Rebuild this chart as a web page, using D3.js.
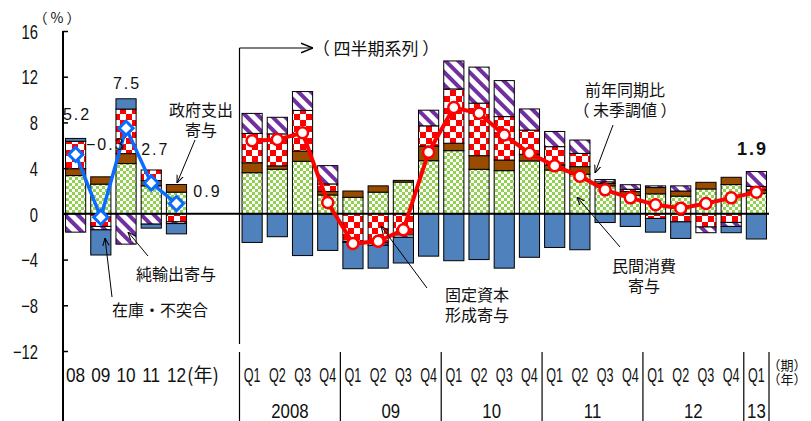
<!DOCTYPE html>
<html>
<head>
<meta charset="utf-8">
<title>GDP growth contributions</title>
<script src="https://d3js.org/d3.v7.min.js"></script>
<style>
  body { margin: 0; background: #fff; }
  svg { display: block; background: #fff; }
  .jp { font-family: "Noto Sans CJK JP", sans-serif; fill: #111; }
  .num { font-family: "Liberation Sans", Arial, sans-serif; fill: #111; }
</style>
</head>
<body>
<svg width="811" height="421"></svg>
<script>

// ---- data (contributions, percentage points) ----
var annualLabels = ["08", "09", "10", "11", "12"];
var quarterLabels = ["Q1","Q2","Q3","Q4","Q1","Q2","Q3","Q4","Q1","Q2","Q3","Q4",
                     "Q1","Q2","Q3","Q4","Q1","Q2","Q3","Q4","Q1"];
var yearLabels = ["2008", "09", "10", "11", "12", "13"];
var yTicks = [-12, -8, -4, 0, 4, 8, 12, 16];

// annual
var consA = [3.35, 2.6, 4.4, 2.45, 1.9];
var govA  = [0.6, 0.64, 0.87, 0.46, 0.67];
var invA  = [2.4, -1.1, 3.9, 0.93, -0.7];
var netA  = [-1.6, -0.3, -2.65, -0.9, -0.15];
var stkA  = [0.25, -2.2, 0.9, -0.35, -0.9];
var growthA = [5.2, -0.3, 7.5, 2.7, 0.9];

// quarterly, 2008Q1 - 2013Q1
var consQ = [3.6, 3.9, 4.6, 1.65, 1.45, 1.9, 2.78, 4.65, 5.53, 3.9, 3.78, 4.63, 3.84, 3.47, 2.45, 1.6, 1.75, 1.55, 2.18, 2.56, 1.8];
var govQ  = [0.87, 0.3, 0.9, 0.3, 0.55, 0.55, 0.15, 1.28, 0.65, 1.19, 0.93, 0.58, 0.44, 0.66, 0.2, 0.35, 0.55, 0.45, 0.58, 0.64, 0.3];
var invQ  = [2.57, 2.8, 3.55, 0.67, -2.4, -2.5, -1.85, 1.77, 4.75, 4.6, 3.8, 2.12, 1.6, 1.16, 0.15, 0.2, -0.4, -0.7, -1.15, -0.75, 0.3];
var netQ  = [1.75, 1.45, 1.65, 1.6, -0.1, -0.25, -0.2, 1.37, 2.45, 3.15, 3.15, 1.85, 1.33, 1.17, 0.2, 0.4, 0.15, 0.45, -0.5, -0.35, 1.3];
var stkQ  = [-2.5, -2.0, -3.65, -3.2, -2.3, -2.0, -2.25, -3.7, -4.1, -4.0, -4.75, -3.8, -2.94, -3.14, -0.76, -1.1, -1.2, -1.45, 0, -0.55, -2.2];
var growthQ = [6.4, 6.5, 7.1, 1.0, -2.6, -2.4, -1.4, 5.4, 9.3, 8.8, 6.9, 5.3, 4.2, 3.3, 2.1, 1.4, 0.8, 0.5, 0.9, 1.4, 1.9];

var series = ["cons", "gov", "inv", "net", "stk"];

var svg = d3.select("svg"),
    width = +svg.attr("width"),
    height = +svg.attr("height");

var keysA = annualLabels.map(function(d, i) { return "a" + i; });
var keysQ = quarterLabels.map(function(d, i) { return "q" + i; });
var domain = keysA.concat(["s0", "s1"], keysQ);

var rows = [];
keysA.forEach(function(k, i) {
  rows.push({key: k, cons: consA[i], gov: govA[i], inv: invA[i], net: netA[i], stk: stkA[i]});
});
keysQ.forEach(function(k, i) {
  rows.push({key: k, cons: consQ[i], gov: govQ[i], inv: invQ[i], net: netQ[i], stk: stkQ[i]});
});

var x = d3.scaleBand()
    .domain(domain)
    .range([63, 769])
    .paddingInner(0.2)
    .paddingOuter(0.1);

var y = d3.scaleLinear()
    .domain([-12, 16])
    .range([351, 31]);

var xc = function(k) { return x(k) + x.bandwidth() / 2; };
var gap = x.step() * x.paddingInner() / 2;

// ---- patterns ----
var defs = svg.append("defs");

var pg = defs.append("pattern").attr("id", "pGreen")
    .attr("patternUnits", "userSpaceOnUse").attr("width", 6).attr("height", 6);
pg.append("rect").attr("width", 6).attr("height", 6).attr("fill", "#fff");
pg.append("rect").attr("width", 3).attr("height", 3).attr("fill", "#92d050");
pg.append("rect").attr("x", 3).attr("y", 3).attr("width", 3).attr("height", 3).attr("fill", "#92d050");

var pr = defs.append("pattern").attr("id", "pRed")
    .attr("patternUnits", "userSpaceOnUse").attr("width", 12).attr("height", 12);
pr.append("rect").attr("width", 12).attr("height", 12).attr("fill", "#fff");
pr.append("rect").attr("width", 6).attr("height", 6).attr("fill", "#ff0000");
pr.append("rect").attr("x", 6).attr("y", 6).attr("width", 6).attr("height", 6).attr("fill", "#ff0000");

var pp = defs.append("pattern").attr("id", "pPurple")
    .attr("patternUnits", "userSpaceOnUse").attr("width", 9).attr("height", 9)
    .attr("patternTransform", "rotate(-45)");
pp.append("rect").attr("width", 9).attr("height", 9).attr("fill", "#fff");
pp.append("rect").attr("width", 4).attr("height", 9).attr("fill", "#7030a0");

var fills = {cons: "url(#pGreen)", gov: "#994c00", inv: "url(#pRed)", net: "url(#pPurple)", stk: "#4f81bd"};

var arrow = function(id, size) {
  defs.append("marker").attr("id", id)
      .attr("viewBox", "0 0 10 10").attr("refX", 10).attr("refY", 5)
      .attr("markerWidth", size).attr("markerHeight", size)
      .attr("markerUnits", "userSpaceOnUse")
      .attr("orient", "auto")
    .append("path").attr("d", "M0,1 L10,5 L0,9")
      .attr("fill", "none").attr("stroke", "#000").attr("stroke-width", 1.3);
};
arrow("arr", 8);
arrow("arrBig", 12);

// ---- stacked bars ----
var stack = d3.stack().keys(series).offset(d3.stackOffsetDiverging);
var layers = stack(rows);

svg.append("g").selectAll("g")
  .data(layers)
  .enter().append("g")
    .attr("fill", function(d) { return fills[d.key]; })
  .selectAll("rect")
  .data(function(d) { return d.filter(function(p) { return p[1] - p[0] !== 0; }); })
  .enter().append("rect")
    .attr("x", function(d) { return x(d.data.key); })
    .attr("width", x.bandwidth())
    .attr("y", function(d) { return y(d[1]); })
    .attr("height", function(d) { return y(d[0]) - y(d[1]); })
    .attr("stroke", "#000")
    .attr("stroke-width", 1);

// ---- axes / frame ----
var yAxis = svg.append("g")
    .attr("transform", "translate(63,0)")
    .call(d3.axisLeft(y).tickValues(yTicks).tickSizeInner(-5).tickSizeOuter(0).tickPadding(25));
yAxis.select(".domain").remove();
yAxis.selectAll("line").attr("stroke", "#000").attr("stroke-width", 1.5);
yAxis.selectAll("text")
    .attr("class", "num")
    .attr("x", -25 / 0.74)
    .attr("dy", "0.36em")
    .attr("transform", "scale(0.74,1)")
    .style("font-size", "20px");

svg.append("line")
    .attr("x1", 63).attr("x2", 63).attr("y1", y(16)).attr("y2", height)
    .attr("stroke", "#000").attr("stroke-width", 2);

svg.append("line")
    .attr("x1", 63).attr("x2", x.range()[1]).attr("y1", y(0)).attr("y2", y(0))
    .attr("stroke", "#000").attr("stroke-width", 2);

// annual / quarterly divider with arrow
var divX = x("q0") - gap;
svg.append("line")
    .attr("x1", divX).attr("x2", divX).attr("y1", 48).attr("y2", 344)
    .attr("stroke", "#000").attr("stroke-width", 1.2);
svg.append("line")
    .attr("x1", divX).attr("x2", 313).attr("y1", 48).attr("y2", 48)
    .attr("stroke", "#000").attr("stroke-width", 1.2)
    .attr("marker-end", "url(#arrBig)");

// ---- growth lines ----
var lineA = d3.line()
    .x(function(d, i) { return xc(keysA[i]); })
    .y(function(d) { return y(d); });
svg.append("path")
    .datum(growthA)
    .attr("fill", "none")
    .attr("stroke", "#0a6cff")
    .attr("stroke-width", 3.5)
    .attr("d", lineA);
svg.append("g").selectAll("path")
  .data(growthA)
  .enter().append("path")
    .attr("d", d3.symbol().type(d3.symbolSquare).size(100))
    .attr("transform", function(d, i) { return "translate(" + xc(keysA[i]) + "," + y(d) + ") rotate(45)"; })
    .attr("fill", "#fff")
    .attr("stroke", "#0a6cff")
    .attr("stroke-width", 3);

var lineQ = d3.line()
    .x(function(d, i) { return xc(keysQ[i]); })
    .y(function(d) { return y(d); });
svg.append("path")
    .datum(growthQ)
    .attr("fill", "none")
    .attr("stroke", "#ff0000")
    .attr("stroke-width", 4)
    .attr("d", lineQ);
svg.append("g").selectAll("circle")
  .data(growthQ)
  .enter().append("circle")
    .attr("cx", function(d, i) { return xc(keysQ[i]); })
    .attr("cy", function(d) { return y(d); })
    .attr("r", 5.5)
    .attr("fill", "#fff")
    .attr("stroke", "#ff0000")
    .attr("stroke-width", 2.5);

// ---- value labels ----
var valueOffsets = [[1.5, -34.5], [5, -67], [1, -39], [4, -28], [31, -6.5]];
svg.append("g").selectAll("text")
  .data(growthA)
  .enter().append("text")
    .attr("class", "num")
    .attr("x", function(d, i) { return xc(keysA[i]) + valueOffsets[i][0]; })
    .attr("y", function(d, i) { return y(d) + valueOffsets[i][1]; })
    .attr("text-anchor", "middle")
    .style("font-size", "16px")
    .style("letter-spacing", "2px")
    .text(function(d) { return d3.format(".1f")(d); });

svg.append("text")
    .attr("class", "num")
    .attr("x", xc(keysQ[20]) - 4)
    .attr("y", 155)
    .attr("text-anchor", "middle")
    .style("font-size", "18px")
    .style("font-weight", "bold")
    .style("letter-spacing", "2px")
    .text(d3.format(".1f")(growthQ[20]));

// ---- category labels ----
function ntext(sel, px, py, str, size, sx, anchor) {
  return sel.append("text")
      .attr("class", "num")
      .attr("transform", "translate(" + px + "," + py + ") scale(" + sx + ",1)")
      .attr("text-anchor", anchor || "middle")
      .style("font-size", size + "px")
      .text(str);
}

var lab = svg.append("g");
annualLabels.forEach(function(d, i) {
  ntext(lab, xc(keysA[i]), 382, d, 21, 0.82);
});
lab.append("text").attr("class", "jp")
    .attr("x", 187).attr("y", 382)
    .style("font-size", "19px")
    .text("(年)");

quarterLabels.forEach(function(d, i) {
  ntext(lab, xc(keysQ[i]), 382, d, 21, 0.6);
});

// year groups in the label table
var yearStarts = [0, 4, 8, 12, 16, 20];
yearLabels.forEach(function(d, j) {
  var a = keysQ[yearStarts[j]];
  var b = keysQ[Math.min(yearStarts[j] + 3, keysQ.length - 1)];
  var left = x(a) - gap, right = x(b) + x.bandwidth() + gap;
  ntext(lab, (left + right) / 2, 418, d, 21, 0.8);
  lab.append("line")
      .attr("x1", left).attr("x2", left).attr("y1", 352).attr("y2", height)
      .attr("stroke", "#000").attr("stroke-width", 1.2);
  if (j === yearLabels.length - 1) {
    lab.append("line")
        .attr("x1", right).attr("x2", right).attr("y1", 352).attr("y2", height)
        .attr("stroke", "#000").attr("stroke-width", 1.2);
  }
});

// multi-line text as one element
function mtext(sel, px, py, lines, size, pitch) {
  var t = sel.append("text").attr("class", "jp")
      .attr("x", px).attr("y", py)
      .attr("text-anchor", "middle")
      .style("font-size", size + "px");
  lines.forEach(function(s, i) {
    t.append("tspan").attr("x", px).attr("dy", i === 0 ? 0 : pitch).text(s);
  });
  return t;
}

mtext(lab, 787, 370, ["（期）", "（年）"], 13, 14);

svg.append("text").attr("class", "jp")
    .attr("x", 57).attr("y", 23).attr("text-anchor", "middle")
    .style("font-size", "14px").text("（ % ）");

// ---- annotations ----
var notes = [
  {lines: ["政府支出", "寄与"], x: 201, y: 116, from: [195, 140], to: [177, 183]},
  {lines: ["純輸出寄与"], x: 176, y: 280, from: [148, 256], to: [128, 232]},
  {lines: ["在庫・不突合"], x: 160, y: 316, from: [112, 297], to: [105, 238]},
  {lines: ["前年同期比", "（ 未季調値 ）"], x: 625, y: 96, from: [613, 125], to: [595, 173]},
  {lines: ["民間消費", "寄与"], x: 644, y: 272, from: [620, 247], to: [577, 197]},
  {lines: ["固定資本", "形成寄与"], x: 477, y: 301, from: [427, 288], to: [381, 226]}
];

var ann = svg.append("g");
notes.forEach(function(n) {
  mtext(ann, n.x, n.y, n.lines, 16, 19.5);
  ann.append("line")
      .attr("x1", n.from[0]).attr("y1", n.from[1])
      .attr("x2", n.to[0]).attr("y2", n.to[1])
      .attr("stroke", "#000").attr("stroke-width", 1)
      .attr("marker-end", "url(#arr)");
});

ann.append("text").attr("class", "jp")
    .attr("x", 376).attr("y", 55).attr("text-anchor", "middle")
    .style("font-size", "17px")
    .text("（ 四半期系列 ）");

</script>
</body>
</html>
